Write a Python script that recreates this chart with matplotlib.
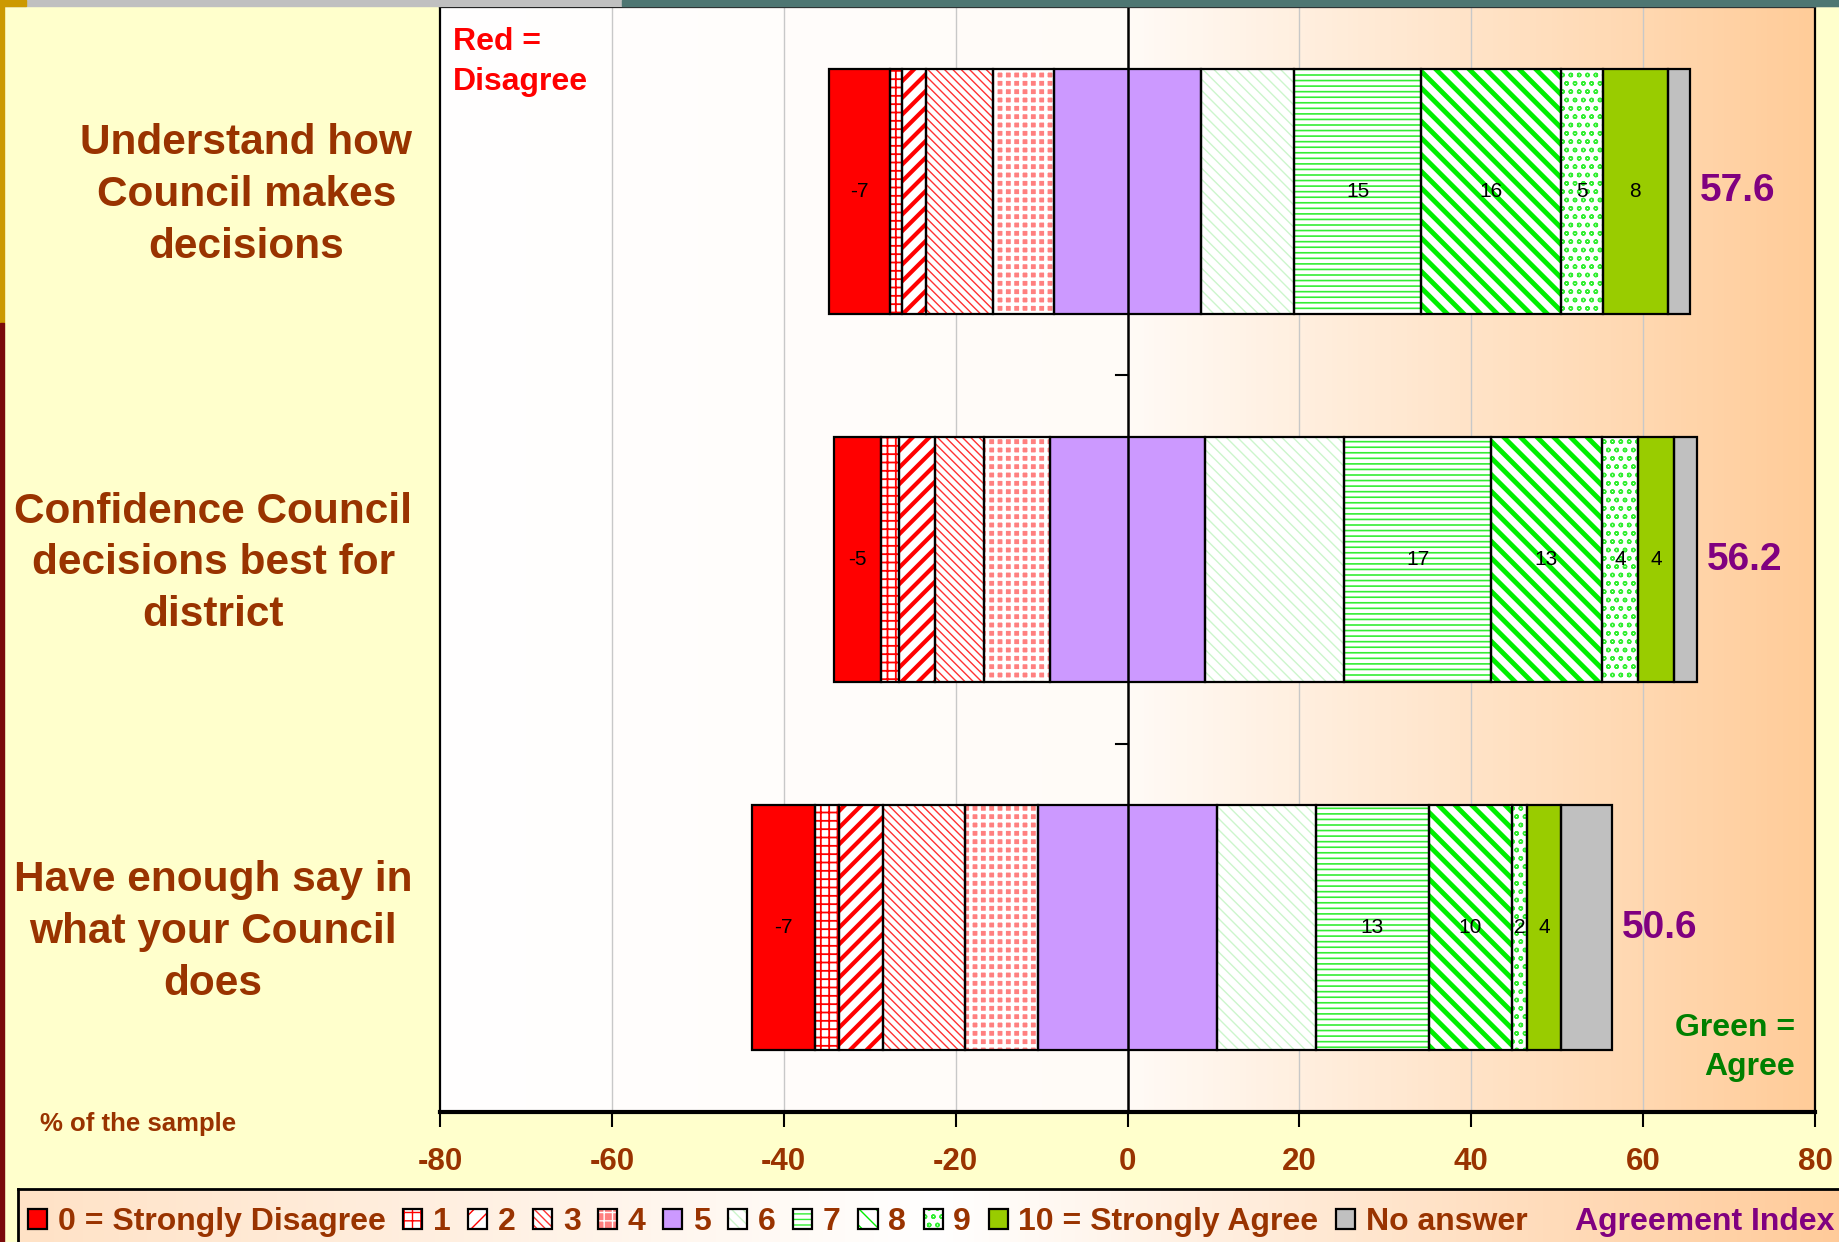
import numpy as np
import matplotlib.pyplot as plt
from matplotlib.patches import Rectangle, Patch
from matplotlib.colors import LinearSegmentedColormap
from matplotlib.transforms import ScaledTranslation

# ---- data -------------------------------------------------------------
categories = [
    "Understand how\nCouncil makes\ndecisions",
    "Confidence Council\ndecisions best for\ndistrict",
    "Have enough say in\nwhat your Council\ndoes",
]
scale_labels = ["0 = Strongly Disagree", "1", "2", "3", "4", "5", "6", "7",
                "8", "9", "10 = Strongly Agree", "No answer"]

# % of sample for scores 0..10 and "No answer"
understand = [7.1, 1.4, 2.8, 7.8, 7.0, 17.2, 10.8, 14.8, 16.2, 4.9, 7.6, 2.6]
confidence = [5.4, 2.1, 4.2, 5.7, 7.7, 18.0, 16.2, 17.1, 12.9, 4.2, 4.2, 2.7]
enough_say = [7.3, 2.8, 5.1, 9.6, 8.5, 20.8, 11.5, 13.2, 9.6, 1.8, 4.0, 5.9]
agreement_index = [57.6, 56.2, 50.6]

x_ticks = [-80, -60, -40, -20, 0, 20, 40, 60, 80]
labelled = [0, 7, 8, 9, 10]   # segments that carry a value label

# ---- styles -----------------------------------------------------------
BROWN = "#993300"
PURPLE = "#800080"
SANS = ["Liberation Sans", "DejaVu Sans"]

# (face, hatch colour, hatch, hatch linewidth)
seg_style = [
    ("#FF0000", "#FF0000", None, 1.0),
    ("white", "#FF0000", "++", 1.3),
    ("white", "#FF0000", "//", 3.0),
    ("white", "#FF3333", "\\\\\\\\", 1.0),
    ("#FF8080", "white", "++", 2.5),
    ("#CC99FF", "#CC99FF", None, 1.0),
    ("white", "#CCF5CC", "\\\\\\", 1.0),
    ("white", "#33EE33", "---", 1.2),
    ("white", "#00EE00", "\\\\", 3.5),
    ("white", "#33EE33", "oo", 1.0),
    ("#99CC00", "#99CC00", None, 1.0),
    ("#C0C0C0", "#C0C0C0", None, 1.0),
]

rows = np.array([understand, confidence, enough_say])
ypos = np.arange(len(categories))
# diverging start: scores 0-4 plus half of the neutral 5 sit left of zero
starts = -(rows[:, :5].sum(axis=1) + rows[:, 5] / 2)

fig = plt.figure(figsize=(18.4, 12.42), dpi=100)
fig.patch.set_facecolor("#FFFFCC")

# slide decorations
fig.patches.extend([
    Rectangle((0, 1 - 6 / 1242), 1, 6 / 1242, transform=fig.transFigure,
              color="#C0C0C0", zorder=0),
    Rectangle((622 / 1840, 1 - 6 / 1242), 1, 6 / 1242, transform=fig.transFigure,
              color="#4E7672", zorder=0),
    Rectangle((0, 1 - 6 / 1242), 26 / 1840, 6 / 1242, transform=fig.transFigure,
              color="#CC9900", zorder=0),
    Rectangle((0, 1 - 323 / 1242), 4 / 1840, 323 / 1242, transform=fig.transFigure,
              color="#CC9900", zorder=0),
    Rectangle((0, 0), 4 / 1840, 1 - 323 / 1242, transform=fig.transFigure,
              color="#7A0A0A", zorder=0),
])

ax = fig.add_axes([440 / 1840, 130 / 1242, 1375 / 1840, 1105 / 1242])

# peach gradient background
grad_cmap = LinearSegmentedColormap.from_list("bg", ["#FFFFFF", "#FFFBF7", "#FFCC99"])
ax.imshow(np.linspace(0, 1, 256)[None, :], extent=[-80, 80, 2.5, -0.5],
          aspect="auto", cmap=grad_cmap, zorder=0)

for t in x_ticks:
    if t not in (-80, 0, 80):
        ax.axvline(t, color="#C8C8C8", lw=1, zorder=0.5)

bar_h = 0.665
left = starts.copy()
for k, (face, hcol, hatch, hlw) in enumerate(seg_style):
    w = rows[:, k]
    bars = ax.barh(ypos, w, left=left, height=bar_h, color=face,
                   edgecolor=hcol, hatch=hatch, lw=0, zorder=2)
    for p in bars:
        if hasattr(p, "set_hatch_linewidth"):
            p.set_hatch_linewidth(hlw)
    ax.barh(ypos, w, left=left, height=bar_h, fill=False,
            edgecolor="black", lw=1.6, zorder=3)
    if k in labelled:
        for i in range(len(ypos)):
            val = -w[i] if k == 0 else w[i]
            ax.text(left[i] + w[i] / 2, ypos[i], f"{val:.0f}", ha="center",
                    va="center", fontsize=15, family=SANS, color="black", zorder=4)
    left = left + w

# agreement index next to each bar
for i, v in enumerate(agreement_index):
    ax.annotate(f"{v:.1f}", xy=(left[i], ypos[i]), xytext=(7, 0),
                textcoords="offset points", ha="left", va="center",
                fontsize=28, fontweight="bold", family=SANS, color=PURPLE, zorder=4)

# zero line and small ticks at category boundaries
ax.axvline(0, color="black", lw=1.8, zorder=3.5)
for b in ypos[:-1] + 0.5:
    ax.plot([-1.3, 0], [b, b], color="black", lw=1.5, zorder=3.5)

ax.set_xlim(-80, 80)
ax.set_ylim(2.5, -0.5)
ax.set_xticks(x_ticks)
ax.set_xticklabels([str(t) for t in x_ticks], fontsize=22.5, fontweight="bold",
                   family=SANS, color=BROWN)
ax.tick_params(axis="x", length=11, width=1.5, pad=14)
ax.set_yticks(ypos)
ax.set_yticklabels(categories, fontsize=30.5, fontweight="bold", family=SANS,
                   color=BROWN, multialignment="center", linespacing=1.38)
ax.tick_params(axis="y", length=0, pad=20)
nudge = ScaledTranslation(0, 0.065, fig.dpi_scale_trans)
for lbl in ax.get_yticklabels():
    lbl.set_transform(lbl.get_transform() + nudge)
for s in ax.spines.values():
    s.set_linewidth(1.6)
ax.spines["bottom"].set_linewidth(3)

ax.text(0.0095, 0.982, "Red =\nDisagree", transform=ax.transAxes, ha="left",
        va="top", fontsize=23, fontweight="bold", family=SANS, color="#FF0000",
        linespacing=1.42, zorder=5)
ax.text(0.9855, 0.027, "Green =\nAgree", transform=ax.transAxes, ha="right",
        va="bottom", fontsize=23, fontweight="bold", family=SANS, color="#008000",
        linespacing=1.4, multialignment="right", zorder=5)

fig.text(40 / 1840, 0.095, "% of the sample", ha="left", va="center",
         fontsize=18.5, fontweight="bold", family=SANS, color=BROWN)

# legend strip
lax = fig.add_axes([18 / 1840, -0.02, 1 - 18 / 1840 + 0.01, 53 / 1242 + 0.02])
leg_cmap = LinearSegmentedColormap.from_list("lg", ["#FFE2C6", "#FFFFFF", "#FFCA98"])
lax.imshow(np.linspace(0, 1, 256)[None, :], extent=[0, 1, 0, 1],
           aspect="auto", cmap=leg_cmap)
lax.set_xlim(0, 1)
lax.set_ylim(0, 1)
lax.set_xticks([])
lax.set_yticks([])
for side in ("right", "bottom"):
    lax.spines[side].set_visible(False)
lax.spines["top"].set_linewidth(2)
lax.spines["left"].set_linewidth(2)

handles = []
for face, hcol, hatch, hlw in seg_style:
    handles.append((Patch(facecolor=face, edgecolor=hcol, hatch=hatch, lw=0),
                    Patch(fill=False, edgecolor="black", lw=1.6)))
handles.append(Patch(alpha=0))
leg = fig.legend(handles, scale_labels + ["Agreement Index"], ncol=13,
                 loc="center left", bbox_to_anchor=(28 / 1840, 20 / 1242),
                 frameon=False, handlelength=0.6, handleheight=0.6,
                 handletextpad=0.33, columnspacing=0.55, borderpad=0,
                 borderaxespad=0,
                 prop=dict(family=SANS, weight="bold", size=23))
for txt in leg.get_texts():
    txt.set_color(BROWN)
leg.get_texts()[-1].set_color(PURPLE)

fig.savefig("out.png", dpi=100, facecolor=fig.get_facecolor())
